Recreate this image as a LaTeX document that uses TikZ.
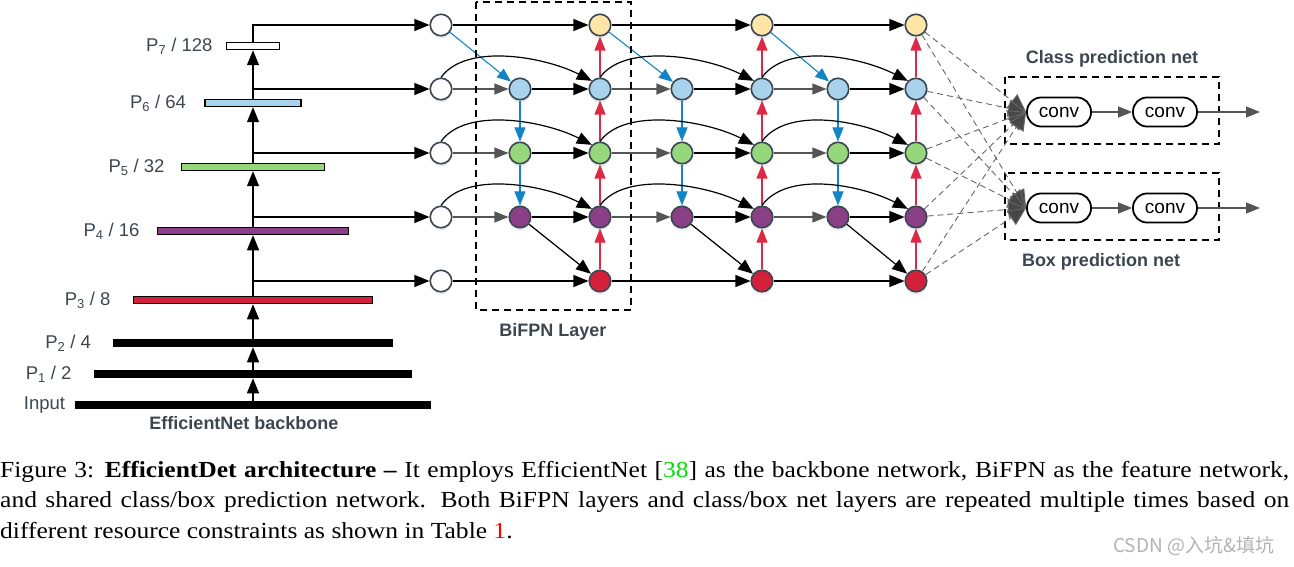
\documentclass[tikz,border=0pt]{standalone}
\usepackage{fontspec}
\setmainfont{Liberation Serif}
\setsansfont{Liberation Sans}
\newfontfamily\capfont[FakeStretch=1.11]{Liberation Serif}
\newfontfamily\cjkfont{Noto Sans CJK SC}
\usetikzlibrary{arrows.meta, positioning, shadows}

\definecolor{edgegray}{HTML}{3A4652}
\definecolor{labgray}{HTML}{3C4650}
\definecolor{cyel}{HTML}{FFE6A6}
\definecolor{cblu}{HTML}{A9D3EC}
\definecolor{cgrn}{HTML}{97D77B}
\definecolor{cpur}{HTML}{8A3F86}
\definecolor{cred}{HTML}{D5203C}
\definecolor{blueline}{HTML}{1385C4}
\definecolor{redline}{HTML}{DB2A45}
\definecolor{grayline}{HTML}{555555}
\definecolor{citegreen}{HTML}{00E000}

\begin{document}
\begin{tikzpicture}
        [
        x=1pt, y=-1pt,
        fnode/.style={circle, draw=edgegray, line width=1.6pt, minimum size=21.5pt, inner sep=0pt,
                drop shadow={opacity=0.15, shadow xshift=0pt, shadow yshift=-3pt}},
        bar/.style={rectangle, draw=black, line width=1.5pt, minimum height=7pt, inner sep=0pt},
        plab/.style={font=\sffamily\fontsize{18.5}{20}\selectfont, text=labgray, inner sep=0pt},
        title/.style={font=\sffamily\bfseries\fontsize{18}{20}\selectfont, text=labgray, inner sep=0pt},
        conv/.style={draw=black, line width=1.8pt, rounded corners=14pt, minimum width=64pt,
                minimum height=29pt, inner sep=0pt, font=\sffamily\fontsize{19}{20}\selectfont},
        blkarrow/.style={-{Triangle[length=15pt, width=12pt]}, draw=black, line width=1.2pt},
        gryarrow/.style={-{Triangle[length=14pt, width=11pt]}, draw=grayline, line width=1.2pt},
        bluarrow/.style={-{Triangle[length=14pt, width=11pt]}, draw=blueline, line width=1.1pt},
        redarrow/.style={-{Triangle[length=14pt, width=11pt]}, draw=redline, line width=1.1pt},
        dasharrow/.style={-{Triangle[length=18pt, width=17pt, fill=black!72]}, draw=black!60,
                line width=0.9pt, dash pattern=on 6pt off 4pt},
        dbox/.style={draw=black, line width=1.8pt, dash pattern=on 7pt off 5pt},
        captext/.style={font=\capfont\fontsize{23}{28}\selectfont, inner sep=0pt, anchor=base west}
        ]

        \useasboundingbox (0,0) rectangle (1294,567);

        % Backbone
        \node (p7) [bar, fill=white, minimum width=53pt] at (253,46) {};
        \node (p6) [bar, fill=cblu, minimum width=96pt] at (253,103) {};
        \node (p5) [bar, fill=cgrn, minimum width=143pt] at (253,167) {};
        \node (p4) [bar, fill=cpur, minimum width=191pt] at (253,231) {};
        \node (p3) [bar, fill=cred, minimum width=239pt] at (253,300) {};
        \node (p2) [bar, fill=black, minimum width=278pt] at (253,343) {};
        \node (p1) [bar, fill=black, minimum width=317pt] at (253,374) {};
        \node (inp) [bar, fill=black, minimum width=354pt] at (253,405) {};

        \node (p7lab) [plab, left=13pt of p7] {P\textsubscript{7} / 128};
        \node (p6lab) [plab, left=18pt of p6] {P\textsubscript{6} / 64};
        \node (p5lab) [plab, left=16pt of p5] {P\textsubscript{5} / 32};
        \node (p4lab) [plab, left=17pt of p4] {P\textsubscript{4} / 16};
        \node (p3lab) [plab, left=22pt of p3] {P\textsubscript{3} / 8};
        \node (p2lab) [plab, left=22pt of p2] {P\textsubscript{2} / 4};
        \node (p1lab) [plab, left=22pt of p1] {P\textsubscript{1} / 2};
        \node (inplab) [plab, left=10pt of inp] {Input};
        \node (bbone) [title] at (244,423) {EfficientNet backbone};

        \draw [blkarrow] (inp.north) -- (p1.south);
        \draw [blkarrow] (p1.north) -- (p2.south);
        \draw [blkarrow] (p2.north) -- (p3.south);
        \draw [blkarrow] (p3.north) -- (p4.south);
        \draw [blkarrow] (p4.north) -- (p5.south);
        \draw [blkarrow] (p5.north) -- (p6.south);
        \draw [blkarrow] (p6.north) -- (p7.south);

        % BiFPN inputs
        \node (o0-7) [fnode, fill=white] at (441,25) {};
        \node (o0-6) [fnode, fill=white] at (441,89) {};
        \node (o0-5) [fnode, fill=white] at (441,153) {};
        \node (o0-4) [fnode, fill=white] at (441,217) {};
        \node (o0-3) [fnode, fill=white] at (441,281) {};

        \draw [blkarrow] (p7.north) |- (o0-7);
        \draw [blkarrow] (p6 |- o0-6) -- (o0-6);
        \draw [blkarrow] (p5 |- o0-5) -- (o0-5);
        \draw [blkarrow] (p4 |- o0-4) -- (o0-4);
        \draw [blkarrow] (p3 |- o0-3) -- (o0-3);

        % BiFPN layers
        \foreach \l/\p/\mx/\ox in {1/0/520/600, 2/1/682/762, 3/2/838/916} {
                \node (o\l-7) [fnode, fill=cyel] at (\ox,25) {};
                \node (m\l-6) [fnode, fill=cblu] at (\mx,89) {};
                \node (o\l-6) [fnode, fill=cblu] at (\ox,89) {};
                \node (m\l-5) [fnode, fill=cgrn] at (\mx,153) {};
                \node (o\l-5) [fnode, fill=cgrn] at (\ox,153) {};
                \node (m\l-4) [fnode, fill=cpur] at (\mx,217) {};
                \node (o\l-4) [fnode, fill=cpur] at (\ox,217) {};
                \node (o\l-3) [fnode, fill=cred] at (\ox,281) {};

                % top-down
                \draw [bluarrow] (o\p-7) -- (m\l-6);
                \draw [bluarrow] (m\l-6) -- (m\l-5);
                \draw [bluarrow] (m\l-5) -- (m\l-4);
                \draw [blkarrow] (m\l-4) -- (o\l-3);

                % bottom-up
                \draw [redarrow] (o\l-3) -- (o\l-4);
                \draw [redarrow] (o\l-4) -- (o\l-5);
                \draw [redarrow] (o\l-5) -- (o\l-6);
                \draw [redarrow] (o\l-6) -- (o\l-7);

                \draw [blkarrow] (o\p-7) -- (o\l-7);
                \draw [blkarrow] (o\p-3) -- (o\l-3);
                \foreach \r in {6,5,4} {
                        \draw [gryarrow] (o\p-\r) -- (m\l-\r);
                        \draw [blkarrow] (m\l-\r) -- (o\l-\r);
                        \draw [blkarrow] (o\p-\r.north) .. controls +(25,-35) and +(-47,-24) .. (o\l-\r.north west);
                }
        }

        \draw [dbox] (476,2) rectangle (631,310);
        \node (bifpn) [title] at (553,332) {BiFPN Layer};

        % Prediction nets
        \node (cls1) [conv] at (1059,112) {conv};
        \node (cls2) [conv] at (1165,112) {conv};
        \node (box1) [conv] at (1059,208) {conv};
        \node (box2) [conv] at (1165,208) {conv};
        \coordinate (clsout) at (1260,112);
        \coordinate (boxout) at (1260,208);

        \draw [dbox] (1005,77) rectangle (1219,144);
        \draw [dbox] (1005,173) rectangle (1219,240);
        \node (clslab) [title] at (1112,59) {Class prediction net};
        \node (boxlab) [title] at (1101,262) {Box prediction net};

        \foreach \r in {7,6,5,4,3} {
                \draw [dasharrow] (o3-\r) -- (cls1.west);
                \draw [dasharrow] (o3-\r) -- (box1.west);
        }
        \draw [gryarrow] (cls1) -- (cls2);
        \draw [gryarrow] (cls2) -- (clsout);
        \draw [gryarrow] (box1) -- (box2);
        \draw [gryarrow] (box2) -- (boxout);

        % Caption
        \node (cap1) [captext] at (0,477) {\makebox[1289pt][s]{Figure 3: \textbf{EfficientDet architecture –} It employs EfficientNet [{\color{citegreen}38}] as the backbone network, BiFPN as the feature network,}};
        \node (cap2) [captext] at (0,507) {\makebox[1289pt][s]{and shared class/box prediction network. Both BiFPN layers and class/box net layers are repeated multiple times based on}};
        \node (cap3) [captext] at (0,538) {different resource constraints as shown in Table {\color{red}1}.};

        \node (mark) [anchor=base west, inner sep=0pt, text=black!30, font=\cjkfont\fontsize{19}{20}\selectfont] at (1113,552) {CSDN @入坑\&填坑};

    \end{tikzpicture}
\end{document}
